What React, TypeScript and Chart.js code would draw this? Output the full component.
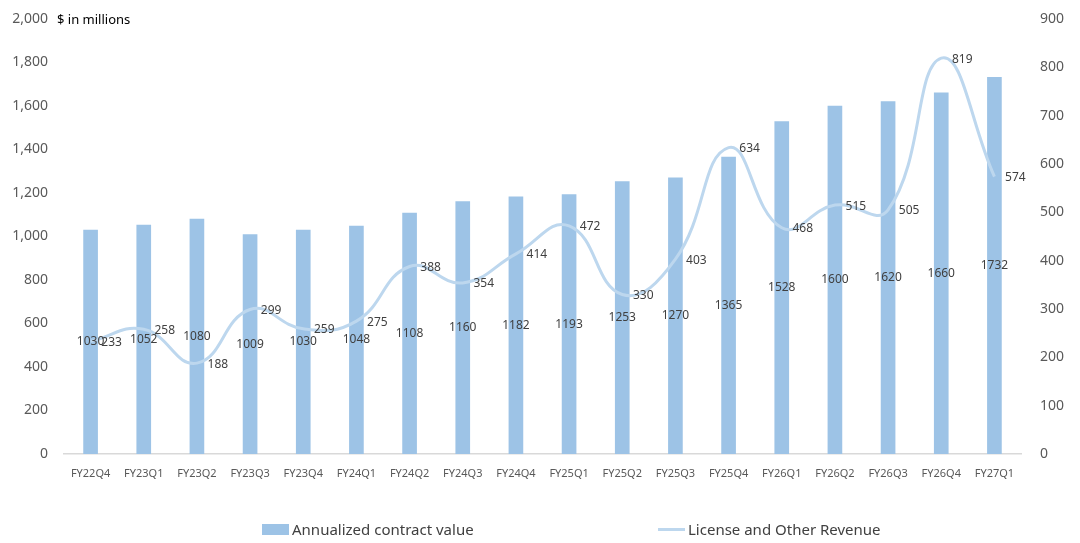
import { useEffect, useRef } from "react";
import { Chart, registerables } from "chart.js";

Chart.register(...registerables);

const QUARTERS = [
  "FY22Q4", "FY23Q1", "FY23Q2", "FY23Q3", "FY23Q4", "FY24Q1", "FY24Q2", "FY24Q3", "FY24Q4",
  "FY25Q1", "FY25Q2", "FY25Q3", "FY25Q4", "FY26Q1", "FY26Q2", "FY26Q3", "FY26Q4", "FY27Q1",
];
const ACV = [1030, 1052, 1080, 1009, 1030, 1048, 1108, 1160, 1182, 1193, 1253, 1270, 1365, 1528, 1600, 1620, 1660, 1732];
const LICENSE = [233, 258, 188, 299, 259, 275, 388, 354, 414, 472, 330, 403, 634, 468, 515, 505, 819, 574];

const FONT = "'Noto Sans', 'Open Sans', sans-serif";
const BAR_COLOR = "#9DC3E6";
const LINE_COLOR = "#BDD7EE";

// etiquetas de valor: barras al centro, línea a la derecha del punto
const valueLabels = {
  id: "valueLabels",
  afterDatasetsDraw(chart: Chart) {
    const { ctx } = chart;
    ctx.save();
    ctx.font = `12px ${FONT}`;
    ctx.fillStyle = "#404040";
    ctx.textAlign = "center";
    ctx.textBaseline = "middle";
    chart.getDatasetMeta(0).data.forEach((el: any, i) => {
      ctx.fillText(String(ACV[i]), el.x, (el.y + el.base) / 2);
    });
    chart.getDatasetMeta(1).data.forEach((pt: any, i) => {
      ctx.fillText(String(LICENSE[i]), pt.x + 21, pt.y + 1);
    });
    ctx.restore();
  },
};

export default function App() {
  const canvasRef = useRef<HTMLCanvasElement | null>(null);

  useEffect(() => {
    document.body.style.margin = "0";
    const canvas = canvasRef.current;
    if (!canvas) return;
    const chart = new Chart(canvas, {
      type: "bar",
      data: {
        labels: QUARTERS,
        datasets: [
          {
            type: "bar",
            label: "Annualized contract value",
            data: ACV,
            backgroundColor: BAR_COLOR,
            barThickness: 14,
            yAxisID: "y",
            order: 2,
          },
          {
            type: "line",
            label: "License and Other Revenue",
            data: LICENSE,
            borderColor: LINE_COLOR,
            borderWidth: 3,
            pointRadius: 0,
            tension: 0.45,
            yAxisID: "y1",
            order: 1,
          },
        ],
      },
      options: {
        animation: false,
        responsive: true,
        maintainAspectRatio: false,
        layout: { padding: { top: 0, left: 0, right: 0, bottom: 0 } },
        plugins: { legend: { display: false }, tooltip: { enabled: false } },
        scales: {
          x: {
            grid: { display: false, drawTicks: false },
            border: { display: true, color: "#D9D9D9", width: 1.5 },
            ticks: { color: "#595959", font: { family: FONT, size: 11 }, padding: 13, maxRotation: 0 },
            afterFit: (s: any) => { s.height = 89; },
          },
          y: {
            position: "left",
            min: 0,
            max: 2000,
            grid: { display: false, drawTicks: false },
            border: { display: false },
            ticks: {
              stepSize: 200,
              color: "#595959",
              font: { family: FONT, size: 14 },
              padding: 16,
              callback: (v: any) => Number(v).toLocaleString("en-US"),
            },
            afterFit: (s: any) => { s.width = 64; s.paddingTop = 19; },
          },
          y1: {
            position: "right",
            min: 0,
            max: 900,
            grid: { display: false, drawTicks: false },
            border: { display: false },
            ticks: { stepSize: 100, color: "#595959", font: { family: FONT, size: 14 }, padding: 19 },
            afterFit: (s: any) => { s.width = 59; s.paddingTop = 19; },
          },
        },
      },
      plugins: [valueLabels],
    });
    return () => chart.destroy();
  }, []);

  return (
    <div style={{ position: "relative", width: 1080, height: 543, background: "#fff", fontFamily: FONT }}>
      <canvas ref={canvasRef} />
      <span style={{ position: "absolute", left: 57, top: 10, fontSize: 13, color: "#000" }}>$ in millions</span>
      <div style={{ position: "absolute", left: 262, top: 519, display: "flex", alignItems: "center", fontSize: 15, color: "#404040" }}>
        <span style={{ width: 27, height: 11, background: BAR_COLOR, marginRight: 3 }} />
        Annualized contract value
      </div>
      <div style={{ position: "absolute", left: 658, top: 519, display: "flex", alignItems: "center", fontSize: 15, color: "#404040" }}>
        <span style={{ width: 27, height: 3, background: LINE_COLOR, marginRight: 3 }} />
        License and Other Revenue
      </div>
    </div>
  );
}
